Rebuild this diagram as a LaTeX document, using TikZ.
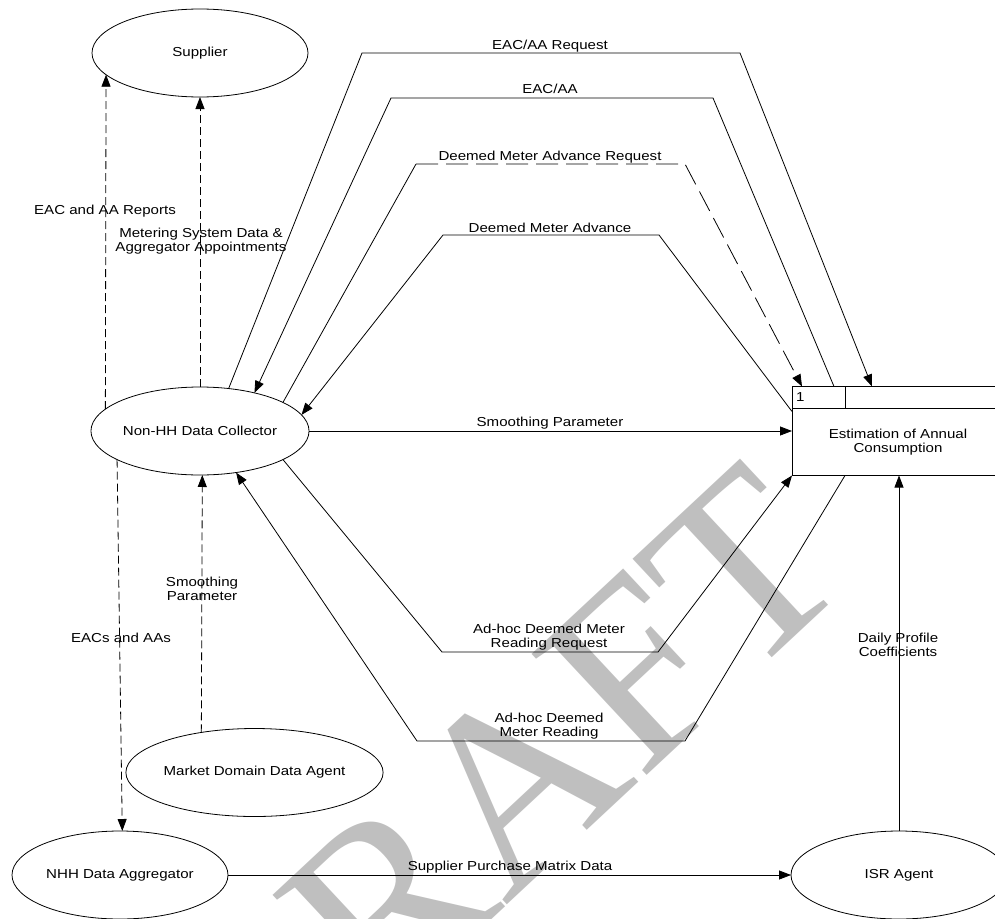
\documentclass[tikz,border=0pt]{standalone}
\usepackage{fontspec}
\setmainfont{Liberation Sans}[FakeStretch=1.16]
\newfontfamily\wmfont{Liberation Serif}
\usetikzlibrary{arrows.meta,calc,shapes.geometric}
\begin{document}
\begin{tikzpicture}[x=1pt,y=-1pt,
  every node/.style={font=\fontsize{13}{14.5}\selectfont},
  ent/.style={draw, ellipse, minimum width=216pt, minimum height=88pt, inner sep=0pt, outer sep=0pt, line width=0.8pt},
  procbox/.style={draw, rectangle, minimum width=214pt, minimum height=89pt, inner sep=0pt, outer sep=0pt, line width=0.8pt},
  conn/.style={draw, line width=0.8pt},
  flow/.style={conn, -{Triangle[length=12pt,width=9pt]}},
  dsh/.style={dash pattern=on 8pt off 4pt},
  dshlong/.style={dash pattern=on 22pt off 8pt},
  lbl/.style={align=center, inner sep=0pt},
  wm/.style={font=\wmfont\fontsize{255}{255}\selectfont, text=black!25, rotate=43, inner sep=0pt}
]
\useasboundingbox (0,0) rectangle (995,918);
\clip (0,0) rectangle (995,918);

% watermark
\node[wm] (draft) at (495,802) {DRAFT};

% entities
\node[ent] (sup) at (200,53) {Supplier};
\node[ent] (nhhdc) at (200,431) {Non-HH Data Collector};
\node[ent] (mdda) at (254.5,772.5) {Market Domain Data Agent};
\node[ent] (nhhda) at (120,875) {NHH Data Aggregator};
\node[ent] (isr) at (899,875) {ISR Agent};

% process
\node[procbox] (proc) at (899,431) {};
\draw[conn] ($(proc.north west)+(0,22)$) -- ($(proc.north east)+(0,22)$);
\draw[conn] ($(proc.north west)+(53,0)$) -- ($(proc.north west)+(53,22)$);
\node[anchor=west, inner sep=0pt] (pnum) at ($(proc.north west)+(4,11)$) {1};
\node[lbl] (ptitle) at (898,442) {Estimation of Annual\\Consumption};

% top flows
\draw[flow] (nhhdc.56.6) -- (362,53) -- (740,53) -- ($(proc.north west)+(80,0)$);
\draw[flow] ($(proc.north west)+(42,0)$) -- (713,98) -- (391,98) -- (nhhdc.35.9);
\draw[conn] (nhhdc.19.2) -- (416,164);
\draw[flow,dshlong] (416,164) -- (685,164) -- ($(proc.north west)+(10,0)$);
\draw[flow] ($(proc.north west)+(0,25)$) -- (659,235) -- (443,235) -- (nhhdc.9.4);
\draw[flow] (nhhdc.east) -- (proc.west);

% bottom flows
\draw[flow] (nhhdc.-19.2) -- (442,652) -- (658,652) -- (proc.south west);
\draw[flow] ($(proc.south west)+(53,0)$) -- (685,741) -- (417,741) -- (nhhdc.-49.1);
\draw[flow] (isr.north) -- (proc.south);
\draw[flow] (nhhda.east) -- (isr.west);

% dashed verticals
\draw[flow,dsh] (nhhdc.167.6) -- (sup.193);
\draw[flow,dsh] (nhhdc.north) -- (sup.south);
\draw[flow,dsh] (mdda.143.2) -- (nhhdc.-87.4);
\draw[flow,dsh] (nhhdc.199.8) -- (nhhda.87);

% labels
\node[lbl] (l1) at (550,46) {EAC/AA Request};
\node[lbl] (l2) at (550,89) {EAC/AA};
\node[lbl] (l3) at (550,157) {Deemed Meter Advance Request};
\node[lbl] (l4) at (550,228) {Deemed Meter Advance};
\node[lbl] (l5) at (550,423) {Smoothing Parameter};
\node[lbl] (l6) at (549,637) {Ad-hoc Deemed Meter\\Reading Request};
\node[lbl] (l7) at (549,726) {Ad-hoc Deemed\\Meter Reading};
\node[lbl] (l8) at (510,867) {Supplier Purchase Matrix Data};
\node[lbl] (l9) at (898,645) {Daily Profile\\Coefficients};
\node[lbl] (l10) at (105,211) {EAC and AA Reports};
\node[lbl] (l11) at (201,241) {Metering System Data \&\\Aggregator Appointments};
\node[lbl] (l12) at (202,589) {Smoothing\\Parameter};
\node[lbl] (l13) at (121,638) {EACs and AAs};
\end{tikzpicture}
\end{document}
